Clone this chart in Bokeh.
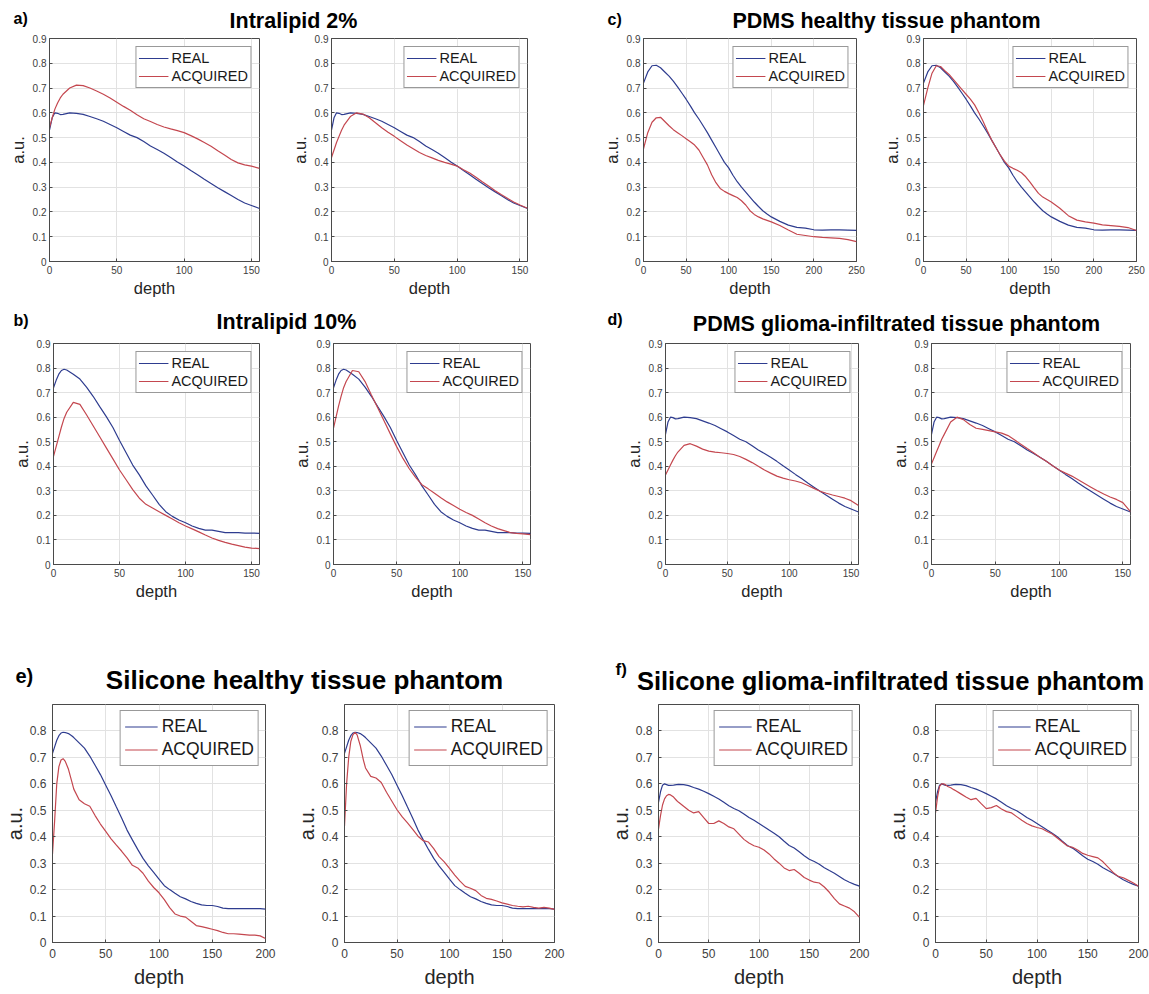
from bokeh.plotting import figure
from bokeh.models import Range1d, FixedTicker, NumeralTickFormatter, Label
from bokeh.layouts import row, column
from bokeh.embed import file_html
from bokeh.resources import INLINE

FONT = "Liberation Sans"
REAL_COLOR = "#2e3c8f"
ACQ_COLOR = "#c4474f"

# ---------------------------------------------------------------- data
series_names = ["REAL", "ACQUIRED"]

# Intralipid and PDMS glioma panels share this depth sampling
depth_lipid = [0, 2, 4, 6, 8, 10, 15, 20, 25, 30, 35, 40, 45, 50, 55, 60, 65, 70, 75,
               80, 85, 90, 95, 100, 105, 110, 115, 120, 125, 130, 135, 140, 145, 150, 156]

real_lipid2 = [0.53, 0.58, 0.60, 0.598, 0.593, 0.594, 0.60, 0.598, 0.594, 0.585, 0.576, 0.566,
               0.553, 0.54, 0.525, 0.51, 0.50, 0.484, 0.466, 0.452, 0.437, 0.42, 0.402, 0.385,
               0.367, 0.35, 0.332, 0.315, 0.298, 0.282, 0.266, 0.25, 0.236, 0.226, 0.214]
acq_lipid2_left = [0.54, 0.58, 0.615, 0.64, 0.66, 0.675, 0.70, 0.712, 0.71, 0.70, 0.688, 0.675,
                   0.66, 0.643, 0.626, 0.61, 0.592, 0.576, 0.565, 0.553, 0.543, 0.535, 0.528,
                   0.52, 0.508, 0.495, 0.48, 0.465, 0.447, 0.43, 0.412, 0.398, 0.39, 0.385, 0.376]
acq_lipid2_right = [0.42, 0.45, 0.48, 0.505, 0.53, 0.55, 0.585, 0.60, 0.595, 0.58, 0.56, 0.54,
                    0.522, 0.505, 0.487, 0.47, 0.455, 0.44, 0.428, 0.418, 0.408, 0.40, 0.393,
                    0.385, 0.37, 0.357, 0.34, 0.322, 0.305, 0.287, 0.27, 0.255, 0.24, 0.228, 0.215]

real_lipid10 = [0.72, 0.75, 0.775, 0.79, 0.795, 0.792, 0.775, 0.755, 0.722, 0.685, 0.643, 0.602,
                0.558, 0.505, 0.455, 0.405, 0.365, 0.32, 0.283, 0.245, 0.215, 0.196, 0.181, 0.17,
                0.157, 0.147, 0.14, 0.14, 0.135, 0.13, 0.13, 0.13, 0.128, 0.128, 0.127]
acq_lipid10_left = [0.44, 0.48, 0.52, 0.56, 0.595, 0.62, 0.66, 0.652, 0.61, 0.565, 0.52, 0.475,
                    0.43, 0.385, 0.345, 0.305, 0.27, 0.245, 0.23, 0.215, 0.20, 0.185, 0.17, 0.157,
                    0.145, 0.133, 0.12, 0.108, 0.098, 0.09, 0.083, 0.077, 0.071, 0.067, 0.065]
acq_lipid10_right = [0.555, 0.60, 0.645, 0.685, 0.72, 0.745, 0.79, 0.785, 0.745, 0.69, 0.638,
                     0.585, 0.532, 0.48, 0.432, 0.39, 0.355, 0.325, 0.308, 0.29, 0.272, 0.255,
                     0.24, 0.225, 0.212, 0.20, 0.185, 0.17, 0.157, 0.146, 0.138, 0.13, 0.127,
                     0.125, 0.122]

acq_pdms_glioma_left = [0.365, 0.385, 0.405, 0.425, 0.443, 0.458, 0.485, 0.492, 0.482, 0.47,
                        0.462, 0.458, 0.455, 0.452, 0.448, 0.44, 0.428, 0.415, 0.40, 0.385,
                        0.372, 0.36, 0.352, 0.345, 0.34, 0.333, 0.322, 0.31, 0.298, 0.29, 0.283,
                        0.277, 0.27, 0.26, 0.24]
acq_pdms_glioma_right = [0.41, 0.435, 0.46, 0.485, 0.51, 0.53, 0.58, 0.60, 0.59, 0.57, 0.555,
                         0.55, 0.545, 0.54, 0.535, 0.525, 0.508, 0.49, 0.472, 0.455, 0.437, 0.42,
                         0.402, 0.385, 0.372, 0.36, 0.345, 0.33, 0.315, 0.30, 0.287, 0.275,
                         0.265, 0.252, 0.215]

# PDMS healthy tissue phantom
depth_pdms = [0, 5, 10, 15, 20, 25, 30, 35, 40, 45, 50, 55, 60, 65, 70, 75, 80, 85, 90, 95,
              100, 105, 110, 115, 120, 125, 130, 135, 140, 145, 150, 160, 170, 180, 190, 200,
              210, 220, 230, 240, 250]
real_pdms = [0.72, 0.765, 0.79, 0.792, 0.782, 0.765, 0.748, 0.728, 0.705, 0.68, 0.655, 0.628,
             0.60, 0.575, 0.548, 0.52, 0.49, 0.46, 0.43, 0.40, 0.378, 0.348, 0.322, 0.30, 0.28,
             0.26, 0.24, 0.222, 0.205, 0.192, 0.18, 0.162, 0.147, 0.138, 0.135, 0.128, 0.127,
             0.128, 0.128, 0.127, 0.126]
acq_pdms_left = [0.455, 0.52, 0.562, 0.58, 0.582, 0.565, 0.548, 0.532, 0.52, 0.508, 0.495, 0.483,
                 0.47, 0.45, 0.42, 0.39, 0.35, 0.318, 0.295, 0.283, 0.274, 0.266, 0.258, 0.245,
                 0.228, 0.205, 0.19, 0.18, 0.172, 0.166, 0.16, 0.145, 0.127, 0.11, 0.105, 0.10,
                 0.097, 0.095, 0.093, 0.088, 0.08]
acq_pdms_right = [0.63, 0.70, 0.76, 0.79, 0.787, 0.77, 0.755, 0.735, 0.715, 0.695, 0.675, 0.655,
                  0.632, 0.60, 0.565, 0.527, 0.49, 0.46, 0.43, 0.405, 0.385, 0.376, 0.368, 0.358,
                  0.342, 0.32, 0.297, 0.275, 0.26, 0.25, 0.24, 0.215, 0.185, 0.167, 0.16, 0.155,
                  0.148, 0.145, 0.142, 0.137, 0.125]

# Silicone phantoms
depth_silicone = [0, 2, 4, 6, 8, 10, 12, 15, 18, 20, 25, 30, 35, 40, 45, 50, 55, 60, 65, 70,
                  75, 80, 85, 90, 95, 100, 105, 110, 115, 120, 125, 130, 135, 140, 145, 150,
                  155, 160, 165, 170, 175, 180, 185, 190, 195, 200]
real_sil_healthy = [0.715, 0.74, 0.765, 0.782, 0.792, 0.795, 0.794, 0.79, 0.782, 0.775, 0.755,
                    0.735, 0.705, 0.67, 0.635, 0.595, 0.555, 0.512, 0.47, 0.425, 0.388, 0.352,
                    0.318, 0.29, 0.265, 0.24, 0.215, 0.20, 0.186, 0.173, 0.165, 0.155, 0.148,
                    0.142, 0.14, 0.14, 0.136, 0.13, 0.128, 0.128, 0.128, 0.128, 0.128, 0.128,
                    0.128, 0.126]
acq_sil_healthy_left = [0.335, 0.46, 0.60, 0.665, 0.69, 0.695, 0.685, 0.655, 0.61, 0.58, 0.54,
                        0.525, 0.515, 0.48, 0.448, 0.42, 0.392, 0.368, 0.345, 0.32, 0.292, 0.282,
                        0.262, 0.232, 0.208, 0.188, 0.162, 0.132, 0.108, 0.10, 0.096, 0.08,
                        0.064, 0.06, 0.055, 0.05, 0.045, 0.038, 0.033, 0.033, 0.032, 0.03, 0.028,
                        0.028, 0.025, 0.015]
acq_sil_healthy_right = [0.44, 0.60, 0.70, 0.76, 0.785, 0.795, 0.785, 0.745, 0.69, 0.66, 0.628,
                         0.622, 0.605, 0.568, 0.535, 0.502, 0.475, 0.452, 0.428, 0.402, 0.385,
                         0.38, 0.355, 0.325, 0.305, 0.28, 0.255, 0.232, 0.212, 0.205, 0.196,
                         0.178, 0.167, 0.163, 0.157, 0.15, 0.145, 0.14, 0.137, 0.135, 0.137,
                         0.133, 0.13, 0.133, 0.13, 0.125]
real_sil_glioma = [0.53, 0.57, 0.595, 0.60, 0.597, 0.594, 0.594, 0.595, 0.597, 0.598, 0.597,
                   0.593, 0.586, 0.58, 0.572, 0.563, 0.553, 0.543, 0.53, 0.517, 0.507, 0.498,
                   0.486, 0.473, 0.462, 0.45, 0.438, 0.425, 0.413, 0.40, 0.383, 0.367, 0.357,
                   0.343, 0.328, 0.315, 0.306, 0.296, 0.283, 0.272, 0.262, 0.25, 0.237, 0.228,
                   0.22, 0.213]
acq_sil_glioma_left = [0.43, 0.48, 0.52, 0.543, 0.555, 0.56, 0.558, 0.55, 0.537, 0.53, 0.515,
                       0.50, 0.49, 0.495, 0.472, 0.45, 0.45, 0.46, 0.45, 0.437, 0.43, 0.41, 0.39,
                       0.376, 0.366, 0.36, 0.35, 0.335, 0.316, 0.30, 0.282, 0.272, 0.276, 0.262,
                       0.246, 0.236, 0.228, 0.225, 0.21, 0.19, 0.166, 0.146, 0.138, 0.13, 0.116,
                       0.095]
acq_sil_glioma_right = [0.49, 0.55, 0.59, 0.60, 0.60, 0.596, 0.59, 0.585, 0.578, 0.574, 0.562,
                        0.55, 0.54, 0.545, 0.525, 0.506, 0.51, 0.518, 0.505, 0.495, 0.49, 0.476,
                        0.462, 0.45, 0.441, 0.435, 0.43, 0.42, 0.41, 0.395, 0.38, 0.365, 0.36,
                        0.35, 0.337, 0.33, 0.325, 0.32, 0.305, 0.285, 0.265, 0.25, 0.245, 0.235,
                        0.225, 0.213]

ticks_lipid = [0, 50, 100, 150]
ticks_pdms = [0, 50, 100, 150, 200, 250]
ticks_silicone = [0, 50, 100, 150, 200]
yticks_full = [0, 0.1, 0.2, 0.3, 0.4, 0.5, 0.6, 0.7, 0.8, 0.9]
yticks_short = [0, 0.1, 0.2, 0.3, 0.4, 0.5, 0.6, 0.7, 0.8]


# ---------------------------------------------------------------- helpers
def panel(x, real, acq, xmax, xticks, yticks, frame, box, big=False):
    """One depth profile axes; frame/box are (left, right, top, bottom) in page pixels."""
    fl, fr, ft, fb = frame
    gl, gr, gt, gb = box
    p = figure(width=gr - gl, height=gb - gt,
               x_range=Range1d(0, xmax), y_range=Range1d(0, 0.9),
               output_backend="svg", toolbar_location=None,
               min_border_left=fl - gl, min_border_right=gr - fr,
               min_border_top=ft - gt, min_border_bottom=gb - fb,
               background_fill_color="white", border_fill_color="white")
    p.outline_line_color = "#4a4a4a"
    p.outline_line_width = 1

    tick_size = "12px" if big else "10px"
    label_size = "20px" if big else "16.5px"
    legend_size = "17.5px" if big else "14.5px"

    p.xaxis.ticker = FixedTicker(ticks=xticks)
    p.yaxis.ticker = FixedTicker(ticks=yticks)
    p.yaxis.formatter = NumeralTickFormatter(format="0.[0]")
    p.xaxis.axis_label = "depth"
    p.yaxis.axis_label = "a.u."
    for ax in (p.xaxis, p.yaxis):
        ax.major_tick_in = 3
        ax.major_tick_out = 0
        ax.minor_tick_line_color = None
        ax.axis_line_color = "#4a4a4a"
        ax.major_tick_line_color = "#4a4a4a"
        ax.major_label_text_font = FONT
        ax.major_label_text_font_size = tick_size
        ax.major_label_text_color = "#404040"
        ax.axis_label_text_font = FONT
        ax.axis_label_text_font_style = "normal"
        ax.axis_label_text_font_size = label_size
        ax.axis_label_text_color = "#262626"
    p.xaxis.major_label_standoff = 6 if big else 4
    p.yaxis.major_label_standoff = 6 if big else 3
    p.xaxis.axis_label_standoff = 5 if big else 2
    p.yaxis.axis_label_standoff = 1 if big else 3

    p.grid.grid_line_color = "#e2e2e2"
    p.grid.grid_line_width = 1

    p.line(x, real, line_color=REAL_COLOR, line_width=1.2, legend_label=series_names[0])
    p.line(x, acq, line_color=ACQ_COLOR, line_width=1.2, legend_label=series_names[1])

    lg = p.legend[0]
    lg.location = "top_right"
    lg.margin = 6 if big else 8
    lg.padding = 4 if big else 2
    lg.spacing = 0
    lg.glyph_width = 33 if big else 30
    lg.glyph_height = 23 if big else 18
    lg.label_height = 23 if big else 18
    lg.label_standoff = 4 if big else 3
    lg.label_text_font = FONT
    lg.label_text_font_size = legend_size
    lg.label_text_color = "#1a1a1a"
    lg.border_line_color = "#333333"
    lg.border_line_width = 1
    lg.background_fill_color = "white"
    lg.background_fill_alpha = 1.0
    return p


def header(top, bottom, items):
    """Strip of bold titles; item positions are page pixels."""
    height = bottom - top
    h = figure(width=1149, height=height, x_range=Range1d(0, 1149),
               y_range=Range1d(bottom, top),
               x_axis_type=None, y_axis_type=None, output_backend="svg",
               toolbar_location=None, min_border=0, outline_line_color=None)
    for x, y, text, size, align in items:
        h.add_layout(Label(x=x, y=y, text=text, text_font=FONT, text_font_style="bold",
                           text_font_size=size, text_align=align, text_baseline="middle",
                           text_color="black"))
    return h


# ---------------------------------------------------------------- rows
head1 = header(0, 33, [
    (13, 17.5, "a)", "16px", "left"),
    (293, 20, "Intralipid 2%", "21.5px", "center"),
    (607, 18.5, "c)", "16px", "left"),
    (886, 20, "PDMS healthy tissue phantom", "21.5px", "center"),
])
row1 = row(
    panel(depth_lipid, real_lipid2, acq_lipid2_left, 156, ticks_lipid, yticks_full,
          (49, 259, 38, 262), (0, 287, 33, 300)),
    panel(depth_lipid, real_lipid2, acq_lipid2_right, 156, ticks_lipid, yticks_full,
          (327, 527, 38, 262), (287, 599, 33, 300)),
    panel(depth_pdms, real_pdms, acq_pdms_left, 250, ticks_pdms, yticks_full,
          (639, 856, 37, 262), (599, 879, 33, 300)),
    panel(depth_pdms, real_pdms, acq_pdms_right, 250, ticks_pdms, yticks_full,
          (919, 1136, 37, 261), (879, 1149, 33, 300)),
)

head2 = header(300, 336, [
    (13, 320, "b)", "16px", "left"),
    (286, 321.5, "Intralipid 10%", "21.5px", "center"),
    (607, 318.5, "d)", "16px", "left"),
    (896, 323.5, "PDMS glioma-infiltrated tissue phantom", "21.5px", "center"),
])
row2 = row(
    panel(depth_lipid, real_lipid10, acq_lipid10_left, 156, ticks_lipid, yticks_full,
          (53, 259, 342, 565), (0, 289, 336, 645)),
    panel(depth_lipid, real_lipid10, acq_lipid10_right, 156, ticks_lipid, yticks_full,
          (329, 530, 340, 564), (289, 621, 336, 645)),
    panel(depth_lipid, real_lipid2, acq_pdms_glioma_left, 156, ticks_lipid, yticks_full,
          (661, 858, 343, 568), (621, 887, 336, 645)),
    panel(depth_lipid, real_lipid2, acq_pdms_glioma_right, 156, ticks_lipid, yticks_full,
          (927, 1130, 343, 568), (887, 1149, 336, 645)),
)

head3 = header(645, 698, [
    (15, 675, "e)", "20px", "left"),
    (304, 679, "Silicone healthy tissue phantom", "26px", "center"),
    (615, 668.5, "f)", "17px", "left"),
    (890, 680, "Silicone glioma-infiltrated tissue phantom", "25.5px", "center"),
])
row3 = row(
    panel(depth_silicone, real_sil_healthy, acq_sil_healthy_left, 200, ticks_silicone,
          yticks_short, (49, 265, 703, 942), (0, 292, 698, 993), big=True),
    panel(depth_silicone, real_sil_healthy, acq_sil_healthy_right, 200, ticks_silicone,
          yticks_short, (338, 554, 704, 943), (292, 606, 698, 993), big=True),
    panel(depth_silicone, real_sil_glioma, acq_sil_glioma_left, 200, ticks_silicone,
          yticks_short, (652, 859, 703, 943), (606, 883, 698, 993), big=True),
    panel(depth_silicone, real_sil_glioma, acq_sil_glioma_right, 200, ticks_silicone,
          yticks_short, (929, 1138, 704, 943), (883, 1149, 698, 993), big=True),
)

page = column(head1, row1, head2, row2, head3, row3)

with open("out.html", "w") as f:
    f.write(file_html(page, INLINE))
